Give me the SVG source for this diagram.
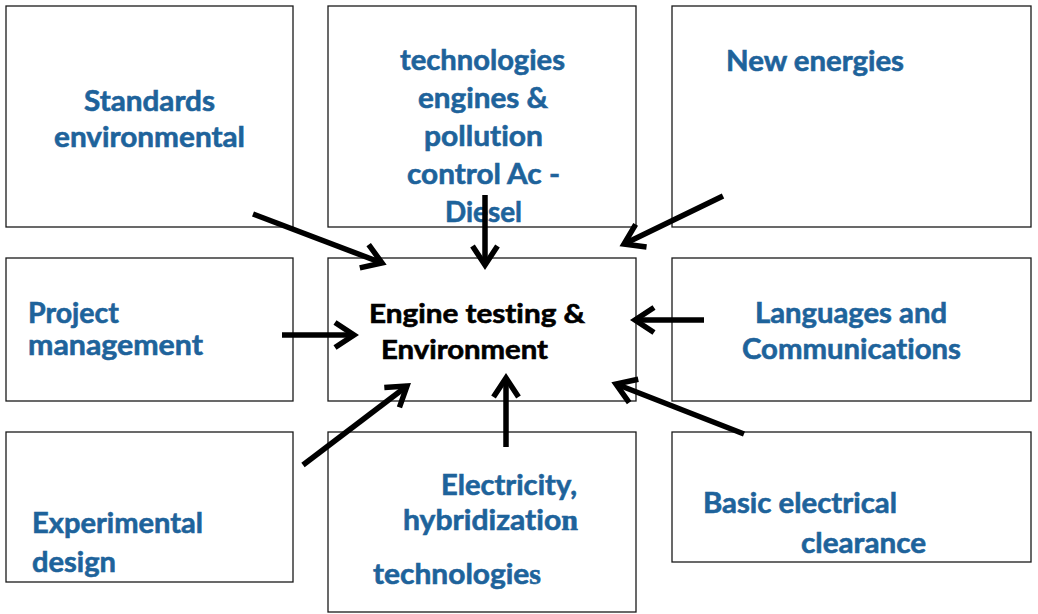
<svg xmlns="http://www.w3.org/2000/svg" width="1038" height="614" viewBox="0 0 1038 614">
  <style>
    .box { fill: #ffffff; stroke: #1a1a1a; stroke-width: 1.3; }
    text { font-variant-ligatures: none; font-feature-settings: "liga" 0; }
    .lbl { font-family: Lato, "Liberation Sans", sans-serif; font-weight: bold; font-size: 29px; fill: #1E639B; stroke: #1E639B; stroke-width: 0.6; }
    .hub { font-family: Lato, "Liberation Sans", sans-serif; font-weight: bold; font-size: 26px; fill: #000000; stroke: #000000; stroke-width: 0.6; }
    .serif { font-family: "Liberation Serif", serif; }
    .arrow { stroke: #000000; stroke-width: 5.5; fill: none; marker-end: url(#chevron); }
  </style>
  <defs>
    <!-- open chevron head for the inward arrows -->
    <marker id="chevron" markerUnits="userSpaceOnUse" markerWidth="40" markerHeight="40" refX="0" refY="0" viewBox="-25 -20 30 40" orient="auto" overflow="visible">
      <path d="M -19 -12.5 L 0 0 L -19 12.5" fill="none" stroke="#000000" stroke-width="5.5"/>
    </marker>
  </defs>

  <rect width="1038" height="614" fill="#ffffff"/>

  <g id="standards">
    <rect class="box" x="6" y="6" width="287" height="221"/>
    <text class="lbl" x="84" y="111" textLength="131" lengthAdjust="spacingAndGlyphs">Standards</text>
    <text class="lbl" x="54" y="147" textLength="191" lengthAdjust="spacingAndGlyphs">environmental</text>
  </g>

  <g id="pollution-control">
    <rect class="box" x="328" y="6" width="308" height="221"/>
    <text class="lbl" x="400" y="70" textLength="165" lengthAdjust="spacingAndGlyphs">technologies</text>
    <text class="lbl" x="418" y="108" textLength="130" lengthAdjust="spacingAndGlyphs">engines &amp;</text>
    <text class="lbl" x="424" y="146" textLength="119" lengthAdjust="spacingAndGlyphs">pollution</text>
    <text class="lbl" x="407" y="184" textLength="153" lengthAdjust="spacingAndGlyphs">control Ac -</text>
    <text class="lbl" x="445" y="222" textLength="77" lengthAdjust="spacingAndGlyphs">Diesel</text>
  </g>

  <g id="new-energies">
    <rect class="box" x="672" y="6" width="359" height="221"/>
    <text class="lbl" x="726" y="71" textLength="178" lengthAdjust="spacingAndGlyphs">New energies</text>
  </g>

  <g id="project-management">
    <rect class="box" x="6" y="258" width="287" height="143"/>
    <text class="lbl" x="28" y="323" textLength="91" lengthAdjust="spacingAndGlyphs">Project</text>
    <text class="lbl" x="28" y="355" textLength="175" lengthAdjust="spacingAndGlyphs">management</text>
  </g>

  <g id="engine-testing">
    <rect class="box" x="328" y="258" width="308" height="143"/>
    <text class="hub" x="369" y="323" textLength="216" lengthAdjust="spacingAndGlyphs">Engine testing &amp;</text>
    <text class="hub" x="381" y="359" textLength="167" lengthAdjust="spacingAndGlyphs">Environment</text>
  </g>

  <g id="languages">
    <rect class="box" x="672" y="258" width="359" height="143"/>
    <text class="lbl" x="755" y="323" textLength="192" lengthAdjust="spacingAndGlyphs">Languages and</text>
    <text class="lbl" x="742" y="359" textLength="219" lengthAdjust="spacingAndGlyphs">Communications</text>
  </g>

  <g id="experimental-design">
    <rect class="box" x="6" y="432" width="287" height="150"/>
    <text class="lbl" x="32" y="533" textLength="171" lengthAdjust="spacingAndGlyphs">Experimental</text>
    <text class="lbl" x="32" y="572" textLength="84" lengthAdjust="spacingAndGlyphs">design</text>
  </g>

  <g id="electricity">
    <rect class="box" x="328" y="432" width="308" height="180"/>
    <text class="lbl" x="441" y="495" textLength="136" lengthAdjust="spacingAndGlyphs">Electricity,</text>
    <text class="lbl" x="403" y="530" textLength="175" lengthAdjust="spacingAndGlyphs">hybridizatio<tspan class="serif">n</tspan></text>
    <text class="lbl" x="373" y="584" textLength="168" lengthAdjust="spacingAndGlyphs">technologie<tspan class="serif">s</tspan></text>
  </g>

  <g id="electrical-clearance">
    <rect class="box" x="672" y="432" width="359" height="130"/>
    <text class="lbl" x="703" y="513" textLength="194" lengthAdjust="spacingAndGlyphs">Basic electrical</text>
    <text class="lbl" x="801" y="553" textLength="125" lengthAdjust="spacingAndGlyphs">clearance</text>
  </g>

  <!-- arrows converging on the central box -->
  <g id="connectors">
    <line class="arrow" x1="253" y1="214" x2="382" y2="263"/>
    <line class="arrow" x1="485" y1="195" x2="485" y2="265"/>
    <line class="arrow" x1="723" y1="196" x2="624" y2="244"/>
    <line class="arrow" x1="282" y1="335" x2="354" y2="335"/>
    <line class="arrow" x1="704" y1="320" x2="635" y2="320"/>
    <line class="arrow" x1="303" y1="465" x2="407" y2="386"/>
    <line class="arrow" x1="506" y1="447" x2="506" y2="378"/>
    <line class="arrow" x1="744" y1="434" x2="616" y2="384"/>
  </g>
</svg>
